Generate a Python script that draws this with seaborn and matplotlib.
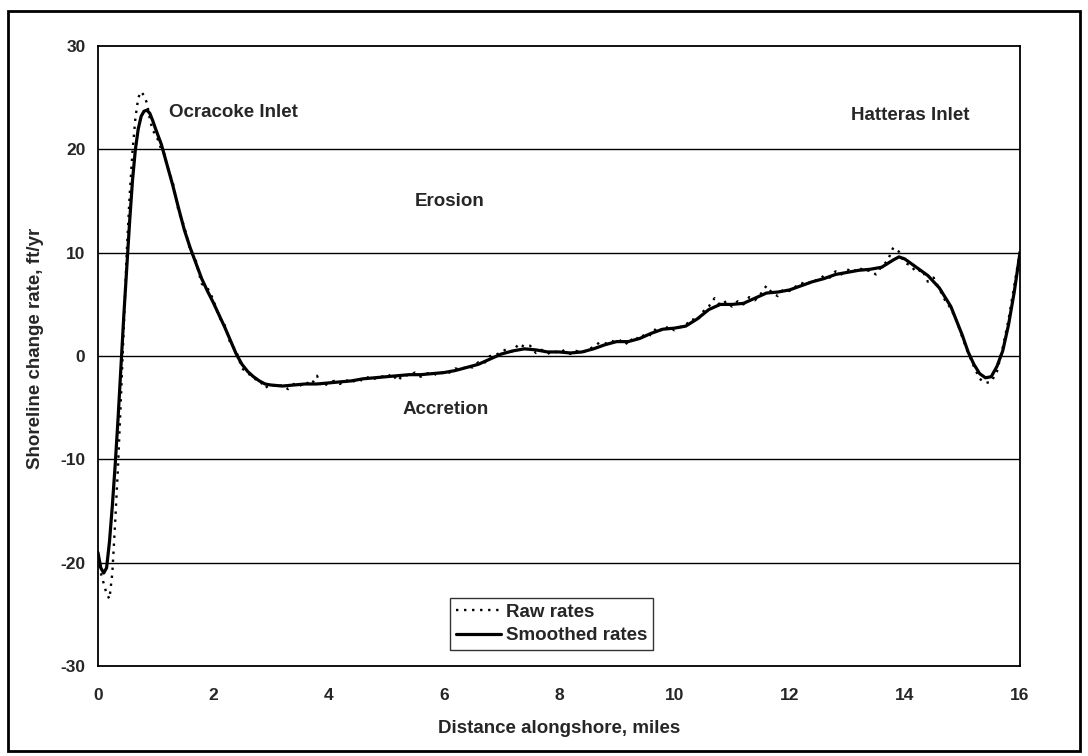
import matplotlib
matplotlib.use("Agg")
import matplotlib.pyplot as plt
import seaborn as sns
import pandas as pd
from matplotlib.patches import Rectangle

# ---- data ----
smooth_x = [0.0, 0.05, 0.1, 0.15, 0.2, 0.25, 0.3, 0.35, 0.4, 0.45, 0.5, 0.55, 0.6, 0.65, 0.7, 0.75,
            0.8, 0.85, 0.9, 0.95, 1.0, 1.1, 1.2, 1.3, 1.4, 1.5, 1.6, 1.7, 1.8, 1.9, 2.0, 2.1, 2.2,
            2.3, 2.4, 2.5, 2.6, 2.7, 2.8, 2.9, 3.0, 3.2, 3.4, 3.6, 3.8, 4.0, 4.2, 4.4, 4.6, 4.8,
            5.0, 5.2, 5.4, 5.6, 5.8, 6.0, 6.2, 6.4, 6.6, 6.8, 7.0, 7.2, 7.4, 7.6, 7.8, 8.0, 8.2,
            8.4, 8.6, 8.8, 9.0, 9.2, 9.4, 9.6, 9.8, 10.0, 10.2, 10.4, 10.6, 10.8, 11.0, 11.2, 11.4,
            11.6, 11.8, 12.0, 12.2, 12.4, 12.6, 12.8, 13.0, 13.2, 13.4, 13.6, 13.8, 13.9, 14.0,
            14.2, 14.4, 14.6, 14.8, 15.0, 15.1, 15.2, 15.3, 15.4, 15.5, 15.6, 15.7, 15.8, 15.9, 16.0]
smooth_y = [-19.0, -20.5, -21.0, -20.5, -18.0, -14.5, -10.5, -6.0, -1.0, 4.0, 8.5, 13.0, 17.0, 20.0,
            22.0, 23.2, 23.7, 23.8, 23.5, 22.8, 22.0, 20.5, 18.5, 16.5, 14.3, 12.2, 10.5, 9.0, 7.5,
            6.3, 5.2, 4.0, 2.8, 1.5, 0.2, -0.8, -1.5, -2.0, -2.4, -2.7, -2.8, -2.9, -2.8, -2.7,
            -2.7, -2.6, -2.5, -2.4, -2.2, -2.1, -2.0, -1.9, -1.8, -1.8, -1.7, -1.6, -1.4, -1.1,
            -0.8, -0.3, 0.2, 0.5, 0.7, 0.6, 0.4, 0.4, 0.3, 0.4, 0.7, 1.1, 1.4, 1.4, 1.7, 2.2, 2.6,
            2.7, 2.9, 3.6, 4.5, 5.0, 5.0, 5.1, 5.6, 6.1, 6.2, 6.4, 6.8, 7.2, 7.5, 7.9, 8.1, 8.3,
            8.4, 8.6, 9.3, 9.6, 9.4, 8.6, 7.8, 6.6, 4.8, 2.0, 0.4, -0.8, -1.7, -2.1, -2.0, -1.0,
            0.5, 3.0, 6.2, 10.0]

raw_x = [0.0, 0.05, 0.1, 0.15, 0.2, 0.25, 0.3, 0.35, 0.4, 0.45, 0.5, 0.55, 0.6, 0.65, 0.7, 0.75,
         0.8, 0.85, 0.9, 0.95, 1.0, 1.05, 1.1, 1.15, 1.2, 1.3, 1.4, 1.5, 1.6, 1.7, 1.8, 1.9, 2.0,
         2.1, 2.2, 2.3, 2.4, 2.5, 2.6, 2.7, 2.8, 2.9, 3.0, 3.1, 3.2, 3.3, 3.4, 3.5, 3.6, 3.7,
         3.8, 3.9, 4.0, 4.1, 4.2, 4.3, 4.4, 4.5, 4.6, 4.7, 4.8, 4.9, 5.0, 5.1, 5.2, 5.3, 5.4,
         5.5, 5.6, 5.7, 5.8, 5.9, 6.0, 6.1, 6.2, 6.3, 6.4, 6.5, 6.6, 6.7, 6.8, 6.9, 7.0, 7.1,
         7.2, 7.3, 7.4, 7.5, 7.6, 7.7, 7.8, 7.9, 8.0, 8.1, 8.2, 8.3, 8.4, 8.5, 8.6, 8.7, 8.8,
         8.9, 9.0, 9.1, 9.2, 9.3, 9.4, 9.5, 9.6, 9.7, 9.8, 9.9, 10.0, 10.1, 10.2, 10.3, 10.4,
         10.5, 10.6, 10.7, 10.8, 10.9, 11.0, 11.1, 11.2, 11.3, 11.4, 11.5, 11.6, 11.7, 11.8,
         11.9, 12.0, 12.1, 12.2, 12.3, 12.4, 12.5, 12.6, 12.7, 12.8, 12.9, 13.0, 13.1, 13.2,
         13.3, 13.4, 13.5, 13.6, 13.7, 13.8, 13.9, 14.0, 14.1, 14.2, 14.3, 14.4, 14.5, 14.6,
         14.7, 14.8, 14.9, 15.0, 15.1, 15.2, 15.3, 15.4, 15.5, 15.6, 15.7, 15.8, 15.9, 16.0]
raw_y = [-19.5, -21.0, -22.0, -23.0, -23.5, -21.0, -16.0, -10.5, -4.0, 3.0, 10.0, 15.5, 19.8, 23.0,
         25.0, 25.6, 25.2, 24.5, 23.0, 21.8, 21.5, 20.8, 20.0, 19.6, 18.4, 16.8, 14.0, 12.5, 10.3,
         9.2, 7.0, 6.6, 5.5, 3.8, 3.0, 1.2, 0.5, -1.2, -1.6, -2.2, -2.3, -3.1, -2.7, -3.0, -2.8,
         -3.2, -2.7, -2.9, -2.5, -2.8, -1.9, -3.0, -2.6, -2.4, -2.7, -2.3, -2.6, -2.2, -2.4, -2.0,
         -2.2, -1.9, -2.1, -1.7, -2.4, -1.8, -1.9, -1.6, -2.0, -1.7, -1.6, -1.9, -1.5, -1.6, -1.2,
         -1.3, -1.0, -1.1, -0.6, -0.7, 0.0, 0.1, 0.4, 0.7, 0.4, 1.2, 0.9, 1.0, 0.3, 0.6, 0.2, 0.5,
         0.3, 0.6, 0.2, 0.5, 0.3, 0.6, 0.9, 1.3, 1.2, 1.5, 1.3, 1.6, 1.1, 1.9, 1.6, 2.2, 2.0, 2.8,
         2.4, 2.9, 2.5, 2.8, 3.0, 3.6, 3.4, 4.3, 4.8, 5.6, 4.9, 5.3, 4.8, 5.3, 5.0, 5.7, 5.4, 6.0,
         6.8, 6.1, 5.8, 6.5, 6.3, 6.7, 7.1, 6.9, 7.4, 7.3, 7.8, 7.6, 8.2, 7.9, 8.4, 8.1, 8.6, 8.2,
         8.3, 7.9, 8.7, 9.2, 10.5, 10.1, 9.0, 8.8, 8.1, 8.4, 7.2, 7.6, 6.5, 5.4, 4.6, 3.4, 1.8,
         0.3, -1.0, -2.2, -2.6, -2.5, -1.5, 0.8, 3.5, 6.8, 10.2]

x_ticks = [0, 2, 4, 6, 8, 10, 12, 14, 16]
y_ticks = [-30, -20, -10, 0, 10, 20, 30]
series_names = ["Raw rates", "Smoothed rates"]
x_label = "Distance alongshore, miles"
y_label = "Shoreline change rate, ft/yr"

raw_df = pd.DataFrame({"x": raw_x, "y": raw_y})
smooth_df = pd.DataFrame({"x": smooth_x, "y": smooth_y})

sns.set_style("white")
plt.rcParams["font.family"] = ["Liberation Sans", "DejaVu Sans"]
plt.rcParams["font.weight"] = "bold"

TXT = 13.5
TICK = 12.5

fig = plt.figure(figsize=(10.88, 7.56), dpi=100)
ax = fig.add_axes([0.090, 0.119, 0.8475, 0.820])

for y in y_ticks[1:-1]:
    ax.axhline(y, color="black", lw=1.0, zorder=1)

sns.lineplot(data=raw_df, x="x", y="y", ax=ax, color="black", lw=1.7,
             linestyle=(0, (1, 2.4)), label=series_names[0], sort=False, zorder=3)
sns.lineplot(data=smooth_df, x="x", y="y", ax=ax, color="black", lw=2.3,
             label=series_names[1], sort=False, zorder=4)

ax.set_xlim(0, 16)
ax.set_ylim(-30, 30)
ax.set_xticks(x_ticks)
ax.set_yticks(y_ticks)
ax.set_xticklabels([str(t) for t in x_ticks], fontsize=TICK, fontweight="bold")
ax.set_yticklabels([str(t) for t in y_ticks], fontsize=TICK, fontweight="bold")
ax.tick_params(axis="both", direction="out", length=4, width=1, color="black")
ax.tick_params(axis="y", pad=5)
ax.tick_params(axis="x", pad=12)
ax.set_xlabel(x_label, fontsize=TXT, fontweight="bold", labelpad=12)
ax.set_ylabel(y_label, fontsize=TXT, fontweight="bold")
ax.yaxis.set_label_coords(-0.058, 0.513)
for s in ax.spines.values():
    s.set_color("black")
    s.set_linewidth(1.3)

ax.text(2.36, 23.6, "Ocracoke Inlet", fontsize=TXT, fontweight="bold", va="center", ha="center")
ax.text(14.09, 23.3, "Hatteras Inlet", fontsize=TXT, fontweight="bold", va="center", ha="center")
ax.text(6.1, 15.0, "Erosion", fontsize=TXT, fontweight="bold", va="center", ha="center")
ax.text(6.04, -5.2, "Accretion", fontsize=TXT, fontweight="bold", va="center", ha="center")

leg = ax.legend(loc="lower center", bbox_to_anchor=(0.492, 0.026), frameon=True, fancybox=False,
                edgecolor="black", fontsize=TXT, handlelength=2.4, handletextpad=0.25,
                borderpad=0.3, labelspacing=0.35, borderaxespad=0)
leg.get_frame().set_linewidth(1.0)
for t in leg.get_texts():
    t.set_fontweight("bold")

fig.patches.append(Rectangle((0.007, 0.006), 0.986, 0.979, transform=fig.transFigure,
                             fill=False, edgecolor="black", lw=2.0))

fig.savefig("out.png", dpi=100, facecolor="white")
